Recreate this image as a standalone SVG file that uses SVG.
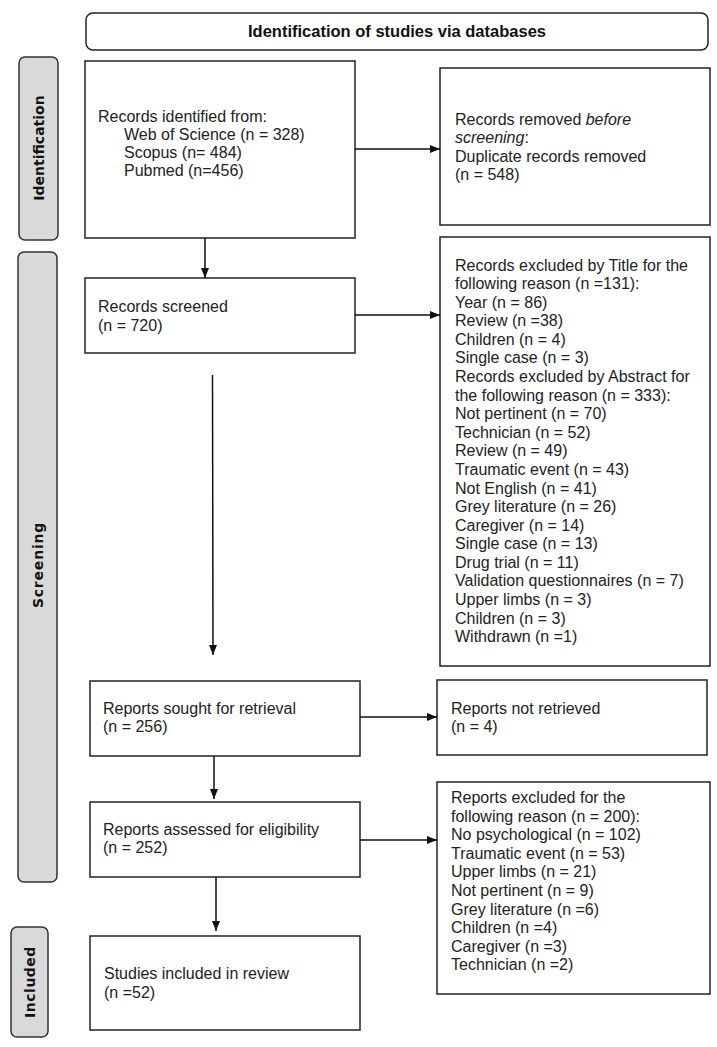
<svg xmlns="http://www.w3.org/2000/svg" width="717" height="1047" viewBox="0 0 717 1047">
<style>
.box{fill:#fff;stroke:#222;stroke-width:1.5}
.tab{fill:#d9d9d9;stroke:#333;stroke-width:1.5}
.t{font-family:"Liberation Sans",Arial,sans-serif;font-size:16px;fill:#222}
.h{font-family:"Liberation Sans",Arial,sans-serif;font-size:16.5px;font-weight:bold;fill:#111}
.side{font-family:"DejaVu Sans",Verdana,sans-serif;font-size:14px;font-weight:bold;fill:#111}
.c{stroke:#111;stroke-width:1.5;fill:none}
</style>
<defs>
<marker id="ah" markerUnits="userSpaceOnUse" markerWidth="10" markerHeight="10" viewBox="0 0 10 10" refX="10" refY="5" orient="auto">
<path d="M0,1 L10,5 L0,9 Z" fill="#111"/>
</marker>
</defs>
<rect width="717" height="1047" fill="#fff"/>
<g id="header">
<rect class="box" x="86" y="13" width="622" height="37" rx="7"/>
<text class="h" x="397" y="37" text-anchor="middle">Identification of studies via databases</text>
</g>
<g id="tab-identification">
<rect class="tab" x="19" y="57" width="39" height="183" rx="6"/>
<text class="side" transform="translate(43.5,148) rotate(-90)" text-anchor="middle">Identification</text>
</g>
<g id="tab-screening">
<rect class="tab" x="18" y="252" width="39" height="630" rx="6"/>
<text class="side" transform="translate(43,565) rotate(-90)" text-anchor="middle" letter-spacing="0.8">Screening</text>
</g>
<g id="tab-included">
<rect class="tab" x="11" y="927" width="37" height="110" rx="6"/>
<text class="side" transform="translate(34.5,982) rotate(-90)" text-anchor="middle" letter-spacing="0.5">Included</text>
</g>
<g id="records-identified">
<rect class="box" x="85" y="61" width="270" height="177"/>
<text class="t" x="98" y="122">Records identified from:</text>
<text class="t" x="124" y="140">Web of Science (n = 328)</text>
<text class="t" x="124" y="158">Scopus (n= 484)</text>
<text class="t" x="124" y="176">Pubmed (n=456)</text>
</g>
<g id="records-removed">
<rect class="box" x="440" y="68" width="270" height="157"/>
<text class="t" x="455" y="125">Records removed <tspan font-style="italic">before</tspan></text>
<text class="t" x="455" y="143"><tspan font-style="italic">screening</tspan>:</text>
<text class="t" x="455" y="162">Duplicate records removed</text>
<text class="t" x="455" y="180">(n = 548)</text>
</g>
<g id="records-screened">
<rect class="box" x="85" y="278" width="270" height="75"/>
<text class="t" x="98" y="312">Records screened</text>
<text class="t" x="98" y="331">(n = 720)</text>
</g>
<g id="records-excluded">
<rect class="box" x="440" y="237" width="270" height="429"/>
<text class="t" x="455" y="270.5">Records excluded by Title for the</text>
<text class="t" x="455" y="289.1">following reason (n =131):</text>
<text class="t" x="455" y="307.7">Year (n = 86)</text>
<text class="t" x="455" y="326.2">Review (n =38)</text>
<text class="t" x="455" y="344.8">Children (n = 4)</text>
<text class="t" x="455" y="363.4">Single case (n = 3)</text>
<text class="t" x="455" y="382">Records excluded by Abstract for</text>
<text class="t" x="455" y="400.6">the following reason (n = 333):</text>
<text class="t" x="455" y="419.1">Not pertinent (n = 70)</text>
<text class="t" x="455" y="437.7">Technician (n = 52)</text>
<text class="t" x="455" y="456.3">Review (n = 49)</text>
<text class="t" x="455" y="474.9">Traumatic event (n = 43)</text>
<text class="t" x="455" y="493.5">Not English (n = 41)</text>
<text class="t" x="455" y="512">Grey literature (n = 26)</text>
<text class="t" x="455" y="530.6">Caregiver (n = 14)</text>
<text class="t" x="455" y="549.2">Single case (n = 13)</text>
<text class="t" x="455" y="567.8">Drug trial (n = 11)</text>
<text class="t" x="455" y="586.4">Validation questionnaires (n = 7)</text>
<text class="t" x="455" y="604.9">Upper limbs (n = 3)</text>
<text class="t" x="455" y="623.5">Children (n = 3)</text>
<text class="t" x="455" y="642.1">Withdrawn (n =1)</text>
</g>
<g id="reports-sought">
<rect class="box" x="90" y="681" width="270" height="75"/>
<text class="t" x="103" y="714">Reports sought for retrieval</text>
<text class="t" x="103" y="732">(n = 256)</text>
</g>
<g id="reports-not-retrieved">
<rect class="box" x="437" y="680" width="270" height="75"/>
<text class="t" x="451" y="714">Reports not retrieved</text>
<text class="t" x="451" y="732">(n = 4)</text>
</g>
<g id="reports-assessed">
<rect class="box" x="90" y="802" width="270" height="75"/>
<text class="t" x="103" y="835">Reports assessed for eligibility</text>
<text class="t" x="103" y="853">(n = 252)</text>
</g>
<g id="reports-excluded">
<rect class="box" x="437" y="782" width="273" height="212"/>
<text class="t" x="451" y="803">Reports excluded for the</text>
<text class="t" x="451" y="821.6">following reason (n = 200):</text>
<text class="t" x="451" y="840.2">No psychological (n = 102)</text>
<text class="t" x="451" y="858.8">Traumatic event (n = 53)</text>
<text class="t" x="451" y="877.4">Upper limbs (n = 21)</text>
<text class="t" x="451" y="896">Not pertinent (n = 9)</text>
<text class="t" x="451" y="914.6">Grey literature (n =6)</text>
<text class="t" x="451" y="933.2">Children (n =4)</text>
<text class="t" x="451" y="951.8">Caregiver (n =3)</text>
<text class="t" x="451" y="970.4">Technician (n =2)</text>
</g>
<g id="studies-included">
<rect class="box" x="90" y="936" width="270" height="94"/>
<text class="t" x="104" y="979">Studies included in review</text>
<text class="t" x="104" y="998">(n =52)</text>
</g>
<g id="connectors">
<line class="c" x1="355" y1="149" x2="440" y2="149" marker-end="url(#ah)"/>
<line class="c" x1="205" y1="238" x2="205" y2="278" marker-end="url(#ah)"/>
<line class="c" x1="355" y1="315" x2="440" y2="315" marker-end="url(#ah)"/>
<line class="c" x1="212.5" y1="375" x2="213" y2="655" marker-end="url(#ah)"/>
<line class="c" x1="360" y1="717" x2="437" y2="717" marker-end="url(#ah)"/>
<line class="c" x1="214" y1="756" x2="214" y2="799" marker-end="url(#ah)"/>
<line class="c" x1="360" y1="840" x2="437" y2="840" marker-end="url(#ah)"/>
<line class="c" x1="216" y1="877" x2="216" y2="931" marker-end="url(#ah)"/>
</g>
</svg>
